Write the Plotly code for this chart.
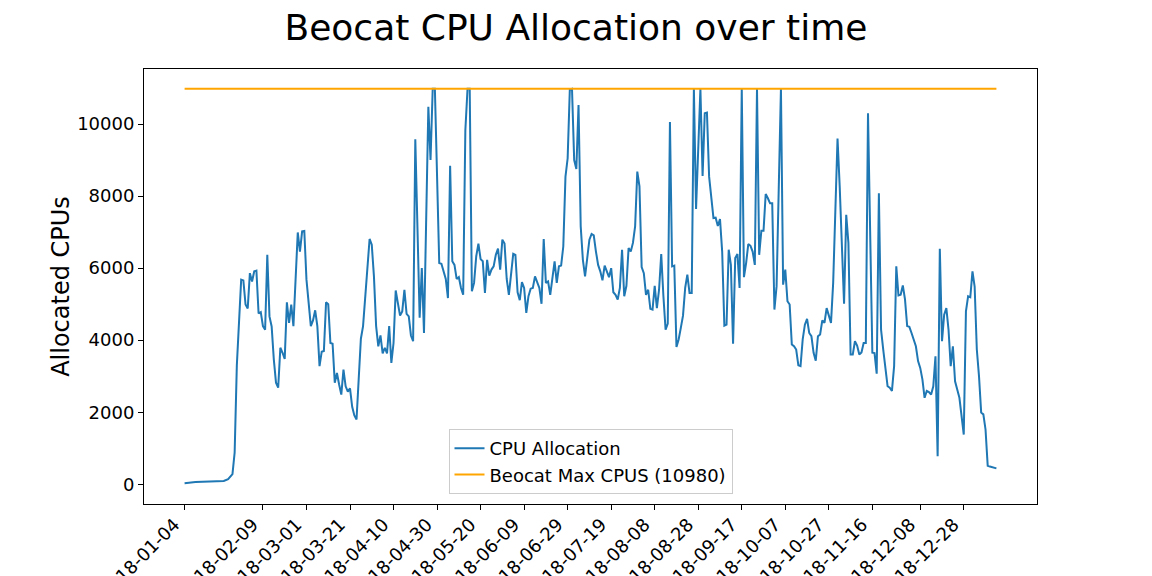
import pandas as pd
import plotly.graph_objects as go

# day offsets from the first sample (2018-01-04) and allocated CPUs
start_date = '2018-01-04'
days = [
    0, 5, 18, 20, 22, 23, 24, 25, 26, 27, 28, 29, 30, 31, 32, 33, 34, 35, 36, 37,
    38, 39, 40, 41, 42, 43, 44, 45, 46, 47, 48, 49, 50, 52, 53, 54, 55, 56, 57, 58,
    59, 60, 61, 62, 63, 64, 65, 66, 67, 68, 69, 70, 71, 72, 73, 74, 75, 76, 77, 78,
    79, 80, 81, 82, 83, 85, 86, 87, 88, 89, 90, 91, 92, 93, 94, 95, 96, 97, 98, 99,
    100, 101, 102, 103, 104, 105, 106, 108, 109, 110, 112, 113, 114, 115, 117, 118,
    120, 121, 122, 123, 124, 125, 126, 127, 128, 129, 130, 131, 132, 133, 134, 135,
    136, 137, 138, 139, 140, 141, 142, 143, 144, 145, 146, 147, 148, 149, 151, 152,
    153, 154, 155, 156, 157, 158, 159, 160, 161, 162, 163, 164, 165, 166, 167, 168,
    169, 170, 171, 172, 173, 174, 175, 176, 177, 178, 179, 180, 181, 182, 183, 184,
    185, 186, 187, 188, 189, 190, 191, 192, 193, 194, 195, 196, 197, 198, 199, 200,
    201, 202, 203, 204, 205, 206, 207, 208, 209, 210, 211, 212, 213, 214, 215, 216,
    217, 218, 219, 220, 221, 222, 223, 224, 225, 226, 227, 228, 229, 230, 231, 232,
    233, 234, 235, 237, 238, 239, 240, 241, 242, 243, 244, 245, 246, 247, 248, 249,
    250, 251, 252, 253, 254, 255, 256, 257, 258, 259, 260, 261, 262, 263, 264, 265,
    266, 267, 268, 269, 270, 271, 272, 274, 275, 276, 277, 278, 279, 280, 281, 282,
    283, 284, 285, 286, 287, 288, 289, 290, 291, 292, 293, 294, 295, 296, 297, 298,
    299, 300, 301, 302, 303, 304, 305, 306, 307, 308, 309, 310, 311, 312, 313, 314,
    316, 317, 318, 319, 320, 321, 322, 323, 324, 325, 326, 327, 328, 329, 330, 331,
    332, 333, 334, 335, 336, 337, 338, 339, 340, 341, 342, 343, 344, 345, 346, 347,
    348, 349, 350, 351, 352, 353, 354, 355, 356, 358, 359, 360, 361, 362, 363, 364,
    365, 366, 367, 368, 369, 370, 373,
]
cpus = [
    30, 60, 90, 140, 280, 880, 3300, 4400, 5680, 5660, 4990, 4880, 5860, 5630, 5910, 5930, 4740, 4780, 4390, 4290,
    6370, 4660, 4380, 3460, 2820, 2680, 3790, 3650, 3480, 5050, 4480, 4990, 4390, 6990, 6460, 7020, 7030, 5680, 5130, 4390,
    4550, 4830, 4390, 3280, 3680, 3700, 5050, 5000, 3920, 3900, 2820, 3090, 2770, 2490, 3180, 2720, 2570, 2660, 2150, 1910,
    1800, 3090, 4040, 4390, 5130, 6810, 6650, 5770, 4390, 3830, 4130, 3630, 3790, 3630, 4390, 3370, 3920, 5380, 5030, 4680,
    4800, 5400, 4730, 4660, 4130, 3970, 9580, 4620, 6000, 4200, 10480, 9000, 10980, 10980, 6140, 6120,
    5700, 5170, 8840, 6190, 6090, 5700, 5750, 5450, 5260, 9830, 10980, 10980, 5360, 5590, 6330, 6680,
    6250, 6190, 5310, 6230, 5790, 5960, 6050, 6370, 6540, 5960, 6790, 6680, 5700, 5260, 6400, 6370,
    5330, 5110, 5610, 5450, 4760, 5220, 5430, 5450, 5770, 5590, 5450, 5010, 6810, 5590, 5630, 5260,
    5820, 6190, 5590, 6050, 6070, 6600, 8540, 9050, 10960, 10980, 9000, 8750, 10530, 7160, 6230, 5770,
    6280, 6790, 6950, 6910, 6460, 6090, 5910, 5660, 6070, 5890, 5750, 6000, 5330, 5260, 5130, 5450,
    6510, 5220, 5510, 6560, 6460, 6700, 7160, 8680, 8270, 6030, 5860, 5260, 5400, 4870, 4850, 5510,
    4890, 5400, 6390, 5220, 4290, 4460, 10060, 6050, 6070, 3810, 4020, 4340, 4680, 5450, 5820, 5310,
    5310, 10980, 7640, 10980, 8560, 10300, 10320, 8540, 7990, 7390, 7400, 7170, 7360, 6460, 4400, 4430,
    6510, 6090, 3900, 6280, 6390, 5450, 10980, 5750, 6140, 6670, 6620, 6460, 6090, 10980, 6370, 7040,
    7040, 8060, 7940, 7800, 7800, 4850, 5500, 10980, 5540, 5960, 5080, 4990, 3880, 3830, 3740, 3300,
    3280, 4020, 4430, 4590, 4200, 4110, 3650, 3430, 4110, 4160, 4550, 4480, 4890, 4660, 4480, 5590,
    7340, 9600, 8270, 6600, 5010, 7480, 6700, 3600, 3600, 3970, 3850, 3600, 3660, 3920, 3920, 10300,
    3650, 3640, 3070, 8080, 4290, 3740, 3190, 2720, 2680, 2590, 3280, 6050, 5240, 5260, 5520, 5130,
    4390, 4370, 4200, 4020, 3830, 3420, 3230, 2910, 2400, 2590, 2560, 2490, 2720, 3550, 780, 6540,
    3970, 4710, 4890, 4290, 3280, 3830, 2860, 2630, 2400, 1380, 4800, 5220, 5190, 5910, 5490, 3740,
    3000, 1990, 1940, 1520, 510, 490, 440,
]
max_cpus = 10980
tick_labels = [
    '2018-01-04', '2018-02-09', '2018-03-01', '2018-03-21', '2018-04-10',
    '2018-04-30', '2018-05-20', '2018-06-09', '2018-06-29', '2018-07-19',
    '2018-08-08', '2018-08-28', '2018-09-17', '2018-10-07', '2018-10-27',
    '2018-11-16', '2018-12-08', '2018-12-28',
]

t0 = pd.Timestamp(start_date)
dates = t0 + pd.to_timedelta(days, unit='D')

font = 'DejaVu Sans, Liberation Sans, sans-serif'

fig = go.Figure()
fig.add_trace(go.Scatter(x=dates, y=cpus, mode='lines', name='CPU Allocation',
                         line=dict(color='#1f77b4', width=2)))
fig.add_trace(go.Scatter(x=[dates[0], dates[-1]], y=[max_cpus, max_cpus],
                         mode='lines',
                         name='Beocat Max CPUS (%d)' % max_cpus,
                         line=dict(color='orange', width=2)))

# matplotlib-like 5% padding around the data
span = (dates[-1] - dates[0]) * 0.05
x_range = [dates[0] - span, dates[-1] + span]
y_pad = max_cpus * 0.05

# the page puts the plot ~8px in from the top-left corner, margins allow for it
fig.update_layout(
    width=1152, height=576,
    margin=dict(l=136, r=123, t=61, b=80),
    paper_bgcolor='white', plot_bgcolor='white',
    font=dict(family=font, size=18, color='black'),
    title=dict(text='Beocat CPU Allocation over time', x=0.493, xanchor='center',
               y=0.967, yanchor='middle', font=dict(size=36, color='black')),
    showlegend=True,
    legend=dict(x=0.5, xanchor='center', y=0.023, yanchor='bottom',
                bgcolor='rgba(255,255,255,0.8)', bordercolor='#cccccc',
                borderwidth=1, font=dict(size=18), tracegroupgap=0),
)
fig.update_xaxes(
    type='date', range=x_range,
    tickmode='array', tickvals=pd.to_datetime(tick_labels), ticktext=tick_labels,
    tickangle=-45, ticks='outside', ticklen=5, tickcolor='black',
    ticklabelshift=-10, ticklabelstandoff=-3,
    showline=True, linecolor='black', linewidth=1, mirror=True,
    showgrid=False, zeroline=False, automargin=False,
    tickfont=dict(size=18),
)
fig.update_yaxes(
    range=[-y_pad, max_cpus + y_pad],
    tickvals=[0, 2000, 4000, 6000, 8000, 10000], tickformat='d',
    ticks='outside', ticklen=5, tickcolor='black',
    showline=True, linecolor='black', linewidth=1, mirror=True,
    showgrid=False, zeroline=False, automargin=False,
    title=dict(text='Allocated CPUs', font=dict(size=24), standoff=0),
    tickfont=dict(size=18),
)

fig.write_html('out.html')
